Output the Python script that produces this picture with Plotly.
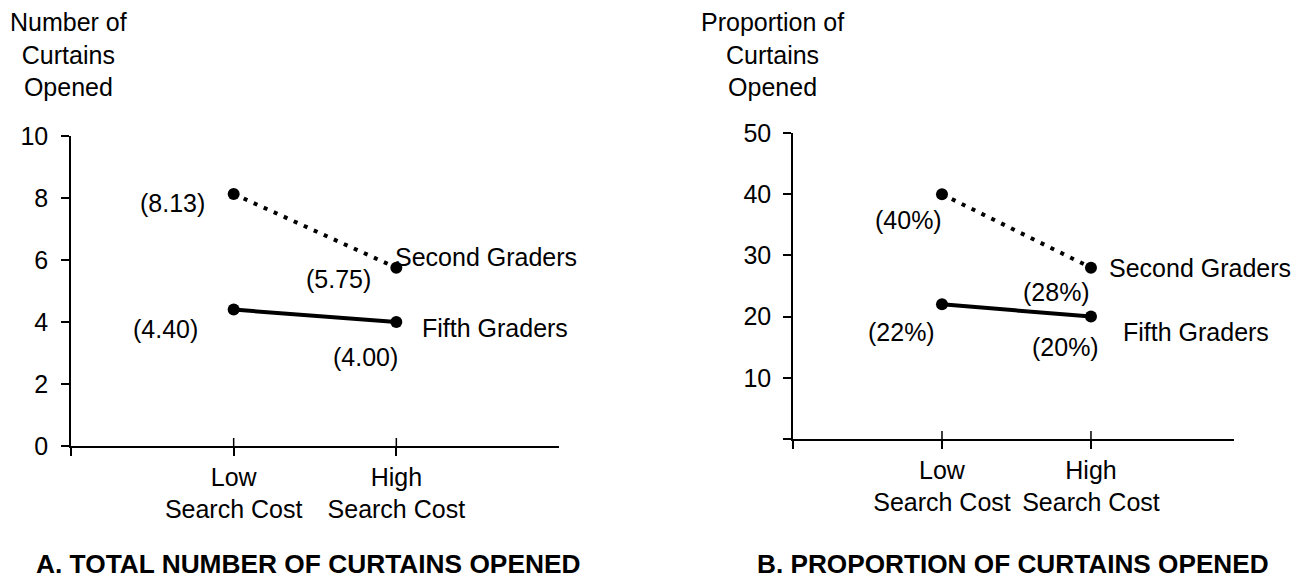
import plotly.graph_objects as go

# ---------------- data ----------------
conditions = ["Low<br>Search Cost", "High<br>Search Cost"]
groups = ["Second Graders", "Fifth Graders"]
total_second = [8.13, 5.75]
total_fifth = [4.40, 4.00]
prop_second = [40, 28]
prop_fifth = [22, 20]
total_ticks = [0, 2, 4, 6, 8, 10]
prop_ticks = [0, 10, 20, 30, 40, 50]
panel_titles = ["A. TOTAL NUMBER OF CURTAINS OPENED", "B. PROPORTION OF CURTAINS OPENED"]
y_titles = ["Number of<br>Curtains<br>Opened", "Proportion of<br>Curtains<br>Opened"]

W, H = 1305, 581
FONT = "Liberation Sans, Arial, Helvetica, sans-serif"
FS = 25


def px_x(p):
    return p / W


def px_y(p):
    return 1 - p / H


xpos = [i + 1 for i in range(len(conditions))]

fig = go.Figure()

dot_line = dict(color="black", width=4, dash="4px,7px")
solid_line = dict(color="black", width=4)
mk = dict(size=12, color="black")

fig.add_trace(go.Scatter(x=xpos, y=total_second, mode="lines+markers", line=dot_line,
                         marker=mk, xaxis="x", yaxis="y", name=groups[0]))
fig.add_trace(go.Scatter(x=xpos, y=total_fifth, mode="lines+markers", line=solid_line,
                         marker=mk, xaxis="x", yaxis="y", name=groups[1]))
fig.add_trace(go.Scatter(x=xpos, y=prop_second, mode="lines+markers", line=dot_line,
                         marker=mk, xaxis="x2", yaxis="y2", name=groups[0]))
fig.add_trace(go.Scatter(x=xpos, y=prop_fifth, mode="lines+markers", line=solid_line,
                         marker=mk, xaxis="x2", yaxis="y2", name=groups[1]))

tickfont = dict(family=FONT, size=FS, color="black")
axis_common = dict(showline=True, linewidth=1.5, linecolor="black", showgrid=False,
                   zeroline=False, ticks="outside", ticklen=8, tickwidth=1.5,
                   tickcolor="black", tickfont=tickfont, fixedrange=True)

fig.update_layout(
    width=W, height=H,
    margin=dict(l=0, r=0, t=0, b=0, autoexpand=False),
    paper_bgcolor="white", plot_bgcolor="white",
    showlegend=False,
    font=dict(family=FONT, size=FS, color="black"),
    xaxis=dict(domain=[px_x(71), px_x(559)], range=[0, 3], anchor="y",
               tickvals=[0] + xpos, ticktext=[""] + conditions, **axis_common),
    yaxis=dict(domain=[px_y(446), px_y(136)], range=[0, 10], anchor="x",
               tickvals=total_ticks, ticktext=[str(t) for t in total_ticks],
               ticklabelstandoff=8, **axis_common),
    xaxis2=dict(domain=[px_x(793), px_x(1234)], range=[0, 2.96], anchor="y2",
                tickvals=[0] + xpos, ticktext=[""] + conditions, **axis_common),
    yaxis2=dict(domain=[px_y(439), px_y(133)], range=[0, 50], anchor="x2",
                tickvals=prop_ticks, ticktext=[""] + [str(t) for t in prop_ticks[1:]],
                ticklabelstandoff=7, **axis_common),
)

# inner halves of the x tick marks (ticks cross the axis)
shapes = []
for xr, yr in (("x", "y"), ("x2", "y2")):
    for xv in xpos:
        shapes.append(dict(type="line", xref=xr, yref=yr, ysizemode="pixel", yanchor=0,
                           x0=xv, x1=xv, y0=0, y1=8, line=dict(color="black", width=1.5)))
fig.update_layout(shapes=shapes)

ann = []


def lab(text, xr, yr, xv, yv, dx, dy, anchor="center"):
    ann.append(dict(text=text, xref=xr, yref=yr, x=xv, y=yv, xshift=dx, yshift=-dy,
                    xanchor=anchor, yanchor="middle", showarrow=False,
                    font=dict(family=FONT, size=FS, color="black")))


# Panel A value labels
offs_a_second = [(-61, 9), (-58, 11)]
offs_a_fifth = [(-68, 19), (-31, 35)]
for i, xv in enumerate(xpos):
    lab("(%.2f)" % total_second[i], "x", "y", xv, total_second[i], *offs_a_second[i])
    lab("(%.2f)" % total_fifth[i], "x", "y", xv, total_fifth[i], *offs_a_fifth[i])
lab(groups[0], "x", "y", xpos[-1], total_second[-1], -3, -11, "left")
lab(groups[1], "x", "y", xpos[-1], total_fifth[-1], 24, 6, "left")

# Panel B value labels
offs_b_second = [(-33, 26), (-34, 24)]
offs_b_fifth = [(-40, 28), (-25, 30)]
for i, xv in enumerate(xpos):
    lab("(%d%%)" % prop_second[i], "x2", "y2", xv, prop_second[i], *offs_b_second[i])
    lab("(%d%%)" % prop_fifth[i], "x2", "y2", xv, prop_fifth[i], *offs_b_fifth[i])
lab(groups[0], "x2", "y2", xpos[-1], prop_second[-1], 16, 0, "left")
lab(groups[1], "x2", "y2", xpos[-1], prop_fifth[-1], 30, 15, "left")

# y-axis titles
for txt, cx in zip(y_titles, (68, 772)):
    ann.append(dict(text=txt, xref="paper", yref="paper", x=px_x(cx), y=px_y(6),
                    xanchor="center", yanchor="top", showarrow=False, align="center",
                    font=dict(family=FONT, size=FS, color="black")))

# panel titles
for txt, cx, fs in zip(panel_titles, (308, 1013), (26.3, 26.2)):
    ann.append(dict(text="<b>%s</b>" % txt, xref="paper", yref="paper", x=px_x(cx),
                    y=px_y(580), xanchor="center", yanchor="bottom", showarrow=False,
                    borderpad=0, font=dict(family=FONT, size=fs, color="black")))

fig.update_layout(annotations=ann)

fig.write_html("out.html", config={"displayModeBar": False},
               post_script="document.body.style.margin='0';document.body.style.overflow='hidden';")
